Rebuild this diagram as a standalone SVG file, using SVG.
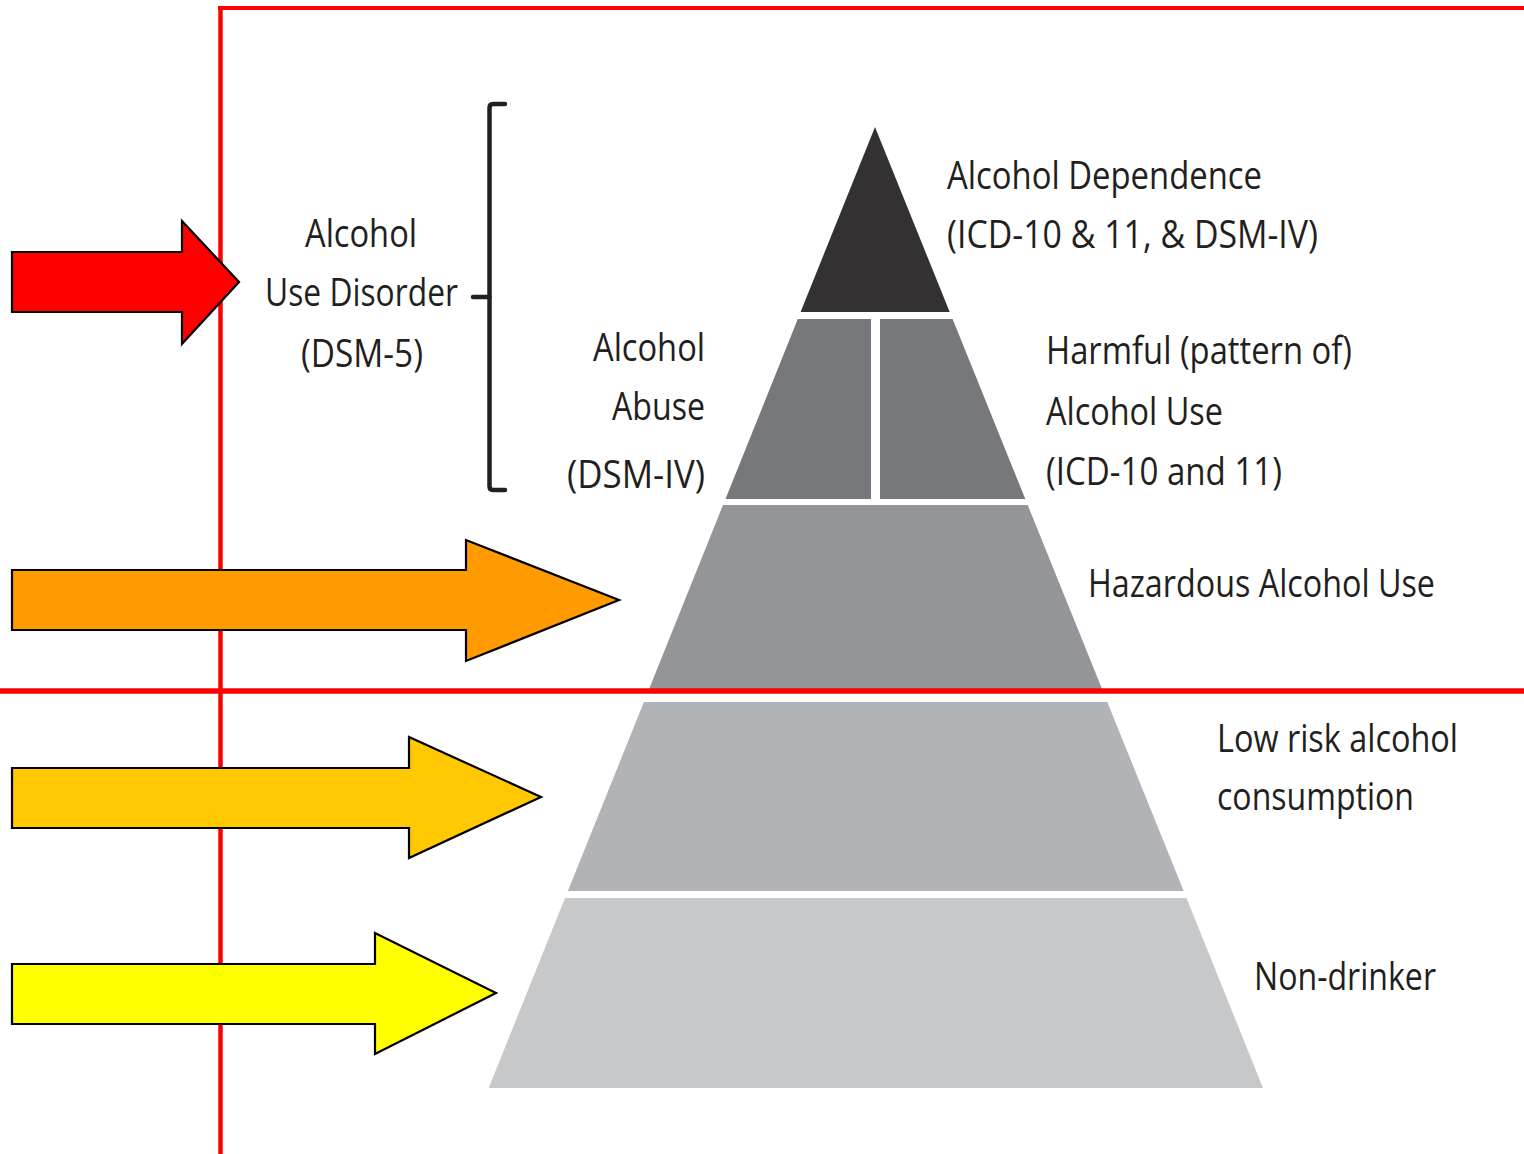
<svg xmlns="http://www.w3.org/2000/svg" width="1524" height="1154" viewBox="0 0 1524 1154">
<style>
.t{font-family:"Open Sans","Liberation Sans",sans-serif;font-size:39px;fill:#231f20}
.arrow{stroke:#000;stroke-width:2.2;stroke-linejoin:miter}
.red{stroke:#ff0000;fill:none}
</style>
<rect width="1524" height="1154" fill="#fff"/>
<g id="pyramid">
<g id="tier-dependence"><polygon points="875,127 949.7,312 800.6,312" fill="#333132"/></g>
<g id="tier-abuse"><polygon points="797.8,319 871,319 871,499 725.5,499" fill="#77787b"/></g>
<g id="tier-harmful"><polygon points="880,319 952.6,319 1025.3,499 880,499" fill="#77787b"/></g>
<g id="tier-hazardous"><polygon points="723,505 1027.7,505 1102.5,690 648.7,690" fill="#939598"/></g>
<g id="tier-lowrisk"><polygon points="643.9,702 1107.3,702 1183.7,891 567.9,891" fill="#b1b3b6"/></g>
<g id="tier-nondrinker"><polygon points="565,898 1186.5,898 1263,1088 488.7,1088" fill="#c7c8ca"/></g>
</g>
<g id="red-lines">
<line class="red" x1="218" y1="8" x2="1524" y2="8" stroke-width="4"/>
<line class="red" x1="220.5" y1="6" x2="220.5" y2="1154" stroke-width="4.5"/>
<line class="red" x1="0" y1="691" x2="1524" y2="691" stroke-width="5.5"/>
</g>
<g id="bracket" fill="none" stroke="#231f20" stroke-width="4.5" stroke-linejoin="round" stroke-linecap="round">
<path d="M505,104 L493,104 Q489.5,104 489.5,108 L489.5,486 Q489.5,490 493,490 L505,490"/>
<path d="M473,297 L489.5,297"/>
</g>
<g id="arrows">
<g id="arrow-red"><polygon class="arrow" fill="#ff0000" points="12,252 182,252 182,221 239,282 182,344 182,312 12,312"/></g>
<g id="arrow-orange"><polygon class="arrow" fill="#ff9a00" points="12,570 466,570 466,540 619,600 466,661 466,630 12,630"/></g>
<g id="arrow-gold"><polygon class="arrow" fill="#ffc800" points="12,768 409,768 409,737 541,797 409,858 409,828 12,828"/></g>
<g id="arrow-yellow"><polygon class="arrow" fill="#ffff00" points="12,964 375,964 375,933 496,993 375,1054 375,1024 12,1024"/></g>
</g>
<g id="labels">
<g id="label-aud">
<text class="t" x="305" y="247" textLength="112" lengthAdjust="spacingAndGlyphs">Alcohol</text>
<text class="t" x="265" y="306" textLength="193" lengthAdjust="spacingAndGlyphs">Use Disorder</text>
<text class="t" x="301" y="367" textLength="122" lengthAdjust="spacingAndGlyphs">(DSM-5)</text>
</g>
<g id="label-abuse">
<text class="t" x="593" y="361" textLength="112" lengthAdjust="spacingAndGlyphs">Alcohol</text>
<text class="t" x="612" y="420" textLength="93" lengthAdjust="spacingAndGlyphs">Abuse</text>
<text class="t" x="567" y="488" textLength="138" lengthAdjust="spacingAndGlyphs">(DSM-IV)</text>
</g>
<g id="label-dependence">
<text class="t" x="947" y="189" textLength="315" lengthAdjust="spacingAndGlyphs">Alcohol Dependence</text>
<text class="t" x="947" y="248" textLength="371" lengthAdjust="spacingAndGlyphs">(ICD-10 &amp; 11, &amp; DSM-IV)</text>
</g>
<g id="label-harmful">
<text class="t" x="1046" y="364" textLength="306" lengthAdjust="spacingAndGlyphs">Harmful (pattern of)</text>
<text class="t" x="1046" y="425" textLength="177" lengthAdjust="spacingAndGlyphs">Alcohol Use</text>
<text class="t" x="1046" y="485" textLength="236" lengthAdjust="spacingAndGlyphs">(ICD-10 and 11)</text>
</g>
<g id="label-hazardous">
<text class="t" x="1088" y="597" textLength="347" lengthAdjust="spacingAndGlyphs">Hazardous Alcohol Use</text>
</g>
<g id="label-lowrisk">
<text class="t" x="1217" y="752" textLength="241" lengthAdjust="spacingAndGlyphs">Low risk alcohol</text>
<text class="t" x="1217" y="810" textLength="197" lengthAdjust="spacingAndGlyphs">consumption</text>
</g>
<g id="label-nondrinker">
<text class="t" x="1254" y="990" textLength="182" lengthAdjust="spacingAndGlyphs">Non-drinker</text>
</g>
</g>
</svg>
